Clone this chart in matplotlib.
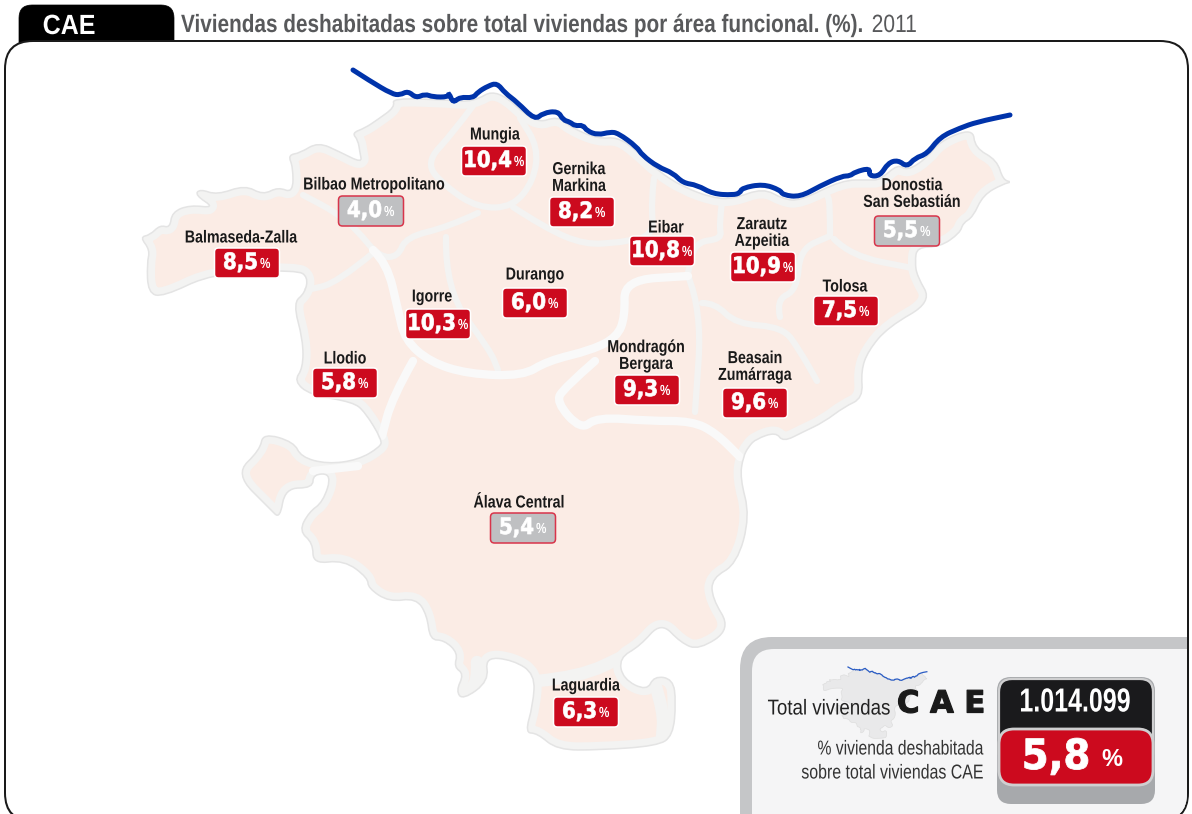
import matplotlib
matplotlib.use("Agg")
import matplotlib.pyplot as plt
from matplotlib.patches import FancyBboxPatch, PathPatch
from matplotlib.path import Path
from matplotlib.patheffects import AbstractPathEffect
from matplotlib.transforms import Affine2D

W, H = 1192, 814

# areas funcionales
areas = ["Mungia", "Bilbao Metropolitano", "Balmaseda-Zalla", "Gernika\nMarkina", "Eibar",
         "Zarautz\nAzpeitia", "Donostia\nSan Sebastián", "Tolosa", "Durango", "Igorre",
         "Llodio", "Mondragón\nBergara", "Beasain\nZumárraga", "Álava Central", "Laguardia"]
values = [10.4, 4.0, 8.5, 8.2, 10.8, 10.9, 5.5, 7.5, 6.0, 10.3, 5.8, 9.3, 9.6, 5.4, 6.3]
box_x = [494, 371, 247, 582, 662, 763, 907, 846, 535, 438, 345, 647, 755, 523, 586]
box_y = [161, 211, 263, 212, 251, 267, 231, 311, 303, 324, 383, 390, 403, 528, 712]
label_x = [495, 374, 241, 579, 666, 762, 912, 845, 535, 432, 345, 646, 755, 519, 586]
label_y = [135, 185, 238, 178, 228, 233, 194, 287, 275, 297, 359, 356, 367, 503, 686]

cae_value = 5.8
cae_total = "1.014.099"

# contorno exterior del mapa
land = [(392, 98), (448, 100), (473, 102), (497, 88), (535, 124), (558, 116), (570, 127), (598, 139),
        (618, 137), (637, 151), (658, 171), (683, 187), (713, 198), (733, 199), (763, 188), (783, 199),
        (800, 201), (842, 180), (869, 180), (880, 180), (898, 164), (907, 171), (927, 158), (940, 141),
        (973, 128), (975, 148), (997, 160), (1003, 180), (1012, 182), (1003, 184), (983, 195), (973, 217),
        (963, 223), (960, 233), (940, 247), (917, 247), (915, 262), (917, 276), (932, 302), (888, 327),
        (868, 351), (861, 371), (863, 398), (844, 407), (824, 422), (803, 432), (783, 442), (776, 432),
        (756, 439), (749, 446), (743, 457), (740, 478), (750, 516), (737, 564), (712, 578), (712, 598),
        (731, 629), (699, 650), (681, 643), (661, 622), (640, 646), (619, 658), (623, 679), (647, 691),
        (654, 676), (673, 679), (676, 702), (673, 736), (657, 746), (599, 750), (557, 750), (537, 733),
        (525, 733), (533, 705), (535, 674), (513, 660), (485, 657), (489, 681), (463, 700), (456, 691),
        (464, 674), (454, 667), (458, 653), (444, 640), (430, 640), (427, 615), (416, 598), (389, 602),
        (368, 588), (368, 578), (344, 560), (313, 564), (313, 543), (299, 531), (309, 512), (323, 502),
        (332, 474), (313, 474), (313, 488), (285, 488), (280, 519), (270, 509), (235, 474), (260, 450),
        (263, 433), (294, 442), (301, 457), (327, 464), (358, 460), (380, 447), (382, 440), (365, 412),
        (353, 402), (310, 395), (294, 381), (303, 368), (303, 340), (293, 303), (305, 293), (308, 277),
        (297, 270), (213, 273), (163, 297), (148, 293), (147, 263), (150, 250), (140, 237), (150, 235),
        (160, 225), (170, 228), (172, 212), (190, 205), (215, 208), (195, 195), (200, 189), (217, 195),
        (245, 185), (263, 195), (278, 187), (293, 193), (293, 167), (288, 155), (300, 153), (318, 142),
        (340, 152), (362, 163), (360, 153), (358, 140), (352, 133), (365, 128), (377, 120), (395, 107)]

# fronteras entre areas (gris claro)
borders_gray = [
    [(475, 103), (453, 133), (425, 163), (446, 187), (478, 208), (513, 207), (534, 180), (538, 147), (520, 118)],
    [(478, 213), (448, 227), (406, 237), (398, 257), (379, 257), (357, 230), (337, 213), (303, 195)],
    [(373, 253), (337, 283), (307, 290)],
    [(513, 207), (545, 228), (585, 245), (620, 242)],
    [(654, 178), (651, 202), (654, 236), (620, 242)],
    [(722, 202), (719, 225), (722, 239), (695, 242), (688, 273)],
    [(688, 276), (702, 310), (695, 412)],
    [(702, 303), (715, 303), (736, 324), (783, 327), (800, 351), (817, 381)],
    [(780, 317), (776, 300), (797, 290), (800, 249), (830, 236)],
    [(830, 236), (830, 202), (827, 195)],
    [(834, 239), (851, 256), (912, 268)],
    [(446, 237), (445, 290), (490, 350), (498, 370)],
]
# zonas grises mas anchas en el sur
bands_wide = [
    [(537, 681), (580, 677), (626, 655)],
    [(477, 662), (478, 682), (467, 692)],
    [(655, 684), (664, 712), (662, 738)],
]
# fronteras anchas en blanco
borders_white = [
    [(373, 250), (387, 263), (398, 310), (405, 340), (430, 362), (468, 374), (523, 376), (547, 361), (592, 350),
     (617, 337), (625, 317), (624, 280), (688, 276)],
    [(595, 361), (564, 388), (556, 402), (581, 430), (597, 417), (650, 421), (692, 421), (716, 433), (740, 457)],
    [(413, 361), (392, 398), (382, 436)],
    [(358, 466), (313, 471)],
]

coast_x = [353, 370, 392, 400, 408, 416, 425, 433, 448, 449, 453, 460, 473, 478, 488, 497, 505, 517, 535, 543,
           558, 563, 570, 575, 583, 587, 598, 610, 618, 637, 642, 658, 673, 683, 697, 713, 733, 740, 742, 763,
           780, 783, 800, 820, 842, 850, 855, 870, 869, 880, 888, 898, 907, 915, 927, 940, 960, 977, 1010]
coast_y = [70, 81, 94, 95, 91, 98, 94, 97, 97, 93, 103, 97, 98, 92, 86, 83, 93, 102, 120, 113,
           111, 120, 122, 126, 125, 131, 135, 132, 133, 147, 155, 167, 173, 183, 185, 194, 195, 193, 188, 184,
           190, 195, 197, 186, 176, 176, 172, 168, 176, 176, 163, 160, 167, 158, 154, 137, 128, 122, 115]

PINK = "#fbece5"
BAND = "#f3f3f2"
RED = "#cc0a1e"
GREY = "#bfc0c2"
SANS = "Liberation Sans"


class Squeeze(AbstractPathEffect):
    # no hay fuente narrow instalada, se estrecha el texto en horizontal
    def __init__(self, sx, x0, stroke=0):
        super().__init__()
        self.sx, self.x0, self.stroke = sx, x0, stroke

    def draw_path(self, renderer, gc, tpath, affine, rgbFace=None):
        a = affine + Affine2D().translate(-self.x0, 0).scale(self.sx, 1).translate(self.x0, 0)
        gc0 = renderer.new_gc()
        gc0.copy_properties(gc)
        if self.stroke:
            gc0.set_linewidth(self.stroke)
            gc0.set_foreground(rgbFace)
        renderer.draw_path(gc0, tpath, a, rgbFace)
        gc0.restore()


def smooth(pts, closed=True):
    # esquinas redondeadas con curvas cuadraticas entre puntos medios
    mid = [((a[0] + b[0]) / 2, (a[1] + b[1]) / 2) for a, b in zip(pts, pts[1:] + pts[:1])]
    if closed:
        verts, codes = [mid[-1]], [Path.MOVETO]
        for p, m in zip(pts, mid):
            verts += [p, m]
            codes += [Path.CURVE3, Path.CURVE3]
    else:
        verts, codes = [pts[0]], [Path.MOVETO]
        for p, m in zip(pts[1:-1], mid[1:-1]):
            verts += [p, m]
            codes += [Path.CURVE3, Path.CURVE3]
        verts.append(pts[-1])
        codes.append(Path.LINETO)
    return Path(verts, codes)


def stext(x, y, s, sx, stroke=0, **kw):
    t = ax.text(x, y, s, **kw)
    t.set_path_effects([Squeeze(sx, x, stroke)])
    return t


fig = plt.figure(figsize=(W / 100, H / 100), dpi=100)
ax = fig.add_axes([0, 0, 1, 1])
ax.set_xlim(0, W)
ax.set_ylim(H, 0)
ax.axis("off")
renderer = fig.canvas.get_renderer()

# pestaña y titulo
ax.add_patch(FancyBboxPatch((19, 5), 155, 50, boxstyle="round,pad=0,rounding_size=13", fc="black", ec="black", lw=0.5))
stext(69, 27, "CAE", 0.9, color="white", fontsize=20, fontweight="bold", family=SANS, ha="center", va="center", zorder=3)
title = stext(181, 25, "Viviendas deshabitadas sobre total viviendas por área funcional. (%).", 0.83,
              color="#58595b", fontsize=18, fontweight="bold", family=SANS, va="center")
x_year = 181 + title.get_window_extent(renderer).width * 0.83 + 8
stext(x_year, 25, "2011", 0.84, color="#58595b", fontsize=18, family=SANS, va="center")

# marco: dos cajas rellenas, el borde inferior queda fuera del lienzo
ax.add_patch(FancyBboxPatch((4, 40), 1185, 782, boxstyle="round,pad=0,rounding_size=29", fc="#1a1a1a", ec="none",
                            zorder=1, clip_on=False))
frame = FancyBboxPatch((6, 42), 1181, 778, boxstyle="round,pad=0,rounding_size=27", fc="white", ec="none",
                       zorder=1, clip_on=False)
ax.add_patch(frame)

# mapa
land_path = smooth(land)
land_fill = PathPatch(land_path, fc=PINK, ec="none", zorder=2)
ax.add_patch(land_fill)
rim = PathPatch(land_path, fc="none", ec=BAND, lw=11, joinstyle="round", zorder=3)
ax.add_patch(rim)
rim.set_clip_path(land_fill)
for b in borders_gray:
    ax.add_patch(PathPatch(smooth(b, closed=False), fc="none", ec=BAND, lw=4.5, capstyle="round", zorder=4))
for b in bands_wide:
    band = PathPatch(smooth(b, closed=False), fc="none", ec=BAND, lw=9, capstyle="round", zorder=4)
    ax.add_patch(band)
    band.set_clip_path(land_fill)
for b in borders_white:
    ax.add_patch(PathPatch(smooth(b, closed=False), fc="none", ec="#f9f9f9", lw=6, capstyle="round", zorder=4))
ax.add_patch(PathPatch(land_path, fc="none", ec="#e4e4e4", lw=1.1, zorder=5))
ax.add_patch(PathPatch(smooth(list(zip(coast_x, coast_y)), closed=False), fc="none", ec="#0033aa", lw=3.6,
                       capstyle="round", zorder=6))

# etiquetas y valores
for name, v, bx, by, lx, ly in zip(areas, values, box_x, box_y, label_x, label_y):
    stext(lx, ly, name, 0.82, ha="center", va="center", fontsize=12.5, fontweight="bold", family=SANS,
          color="#1a1a1a", linespacing=1.15, zorder=8)
    low = v < cae_value
    ax.add_patch(FancyBboxPatch((bx - 32.5, by - 15), 65, 30, boxstyle="round,pad=0,rounding_size=4",
                                fc=GREY if low else RED, ec="#d8344a" if low else "white", lw=1.1, zorder=7))
    t = ax.text(bx, by, f"{v:.1f}".replace(".", ","), color="white", fontsize=16.2, fontweight="bold",
                ha="left", va="center", zorder=8)
    w_val = t.get_window_extent(renderer).width * 0.88
    x_val = bx - (w_val + 13) / 2
    t.set_x(x_val)
    t.set_path_effects([Squeeze(0.88, x_val, 0.5)])
    stext(x_val + w_val + 2, by + 1, "%", 0.8, color="white", fontsize=10.5, fontweight="bold", family=SANS,
          va="center", zorder=8)

# recuadro CAE
panel = FancyBboxPatch((740, 637), 500, 250, boxstyle="round,pad=0,rounding_size=32", fc="#c5c6c8", ec="none", zorder=9)
ax.add_patch(panel)
panel.set_clip_path(frame)
inner = FancyBboxPatch((752, 649), 500, 250, boxstyle="round,pad=0,rounding_size=22", fc="#f5f5f6", ec="none", zorder=9)
ax.add_patch(inner)
inner.set_clip_path(frame)

mini = Affine2D().translate(-353, -70).scale(0.12, 0.105).translate(848, 667) + ax.transData
ax.add_patch(PathPatch(land_path, fc="#e9e9ea", ec="#dedede", lw=0.5, transform=mini, zorder=10))
ax.plot(coast_x, coast_y, color="#2a5cc4", lw=0.9, transform=mini, zorder=10)

stext(890, 709, "Total viviendas", 0.87, ha="right", va="center", fontsize=15.5, family=SANS, color="#222222", zorder=11)
stext(941, 704, "C A E", 1.0, stroke=0.9, ha="center", va="center", fontsize=22, fontweight="bold", family="DejaVu Sans",
      color="#1a1a1a", zorder=11)
stext(984, 749, "% vivienda deshabitada", 0.78, ha="right", va="center", fontsize=14.5, family=SANS, color="#333333", zorder=11)
stext(984, 773, "sobre total viviendas CAE", 0.79, ha="right", va="center", fontsize=14.5, family=SANS, color="#333333", zorder=11)

ax.add_patch(FancyBboxPatch((997, 677), 158, 127, boxstyle="round,pad=0,rounding_size=14", fc="#a7a9ac", ec="none", zorder=10))
ax.add_patch(FancyBboxPatch((999, 679), 154, 88, boxstyle="round,pad=0,rounding_size=13", fc="#1a1a1c", ec="#cfcfd0", lw=1.6, zorder=11))
ax.add_patch(FancyBboxPatch((999, 729), 154, 56, boxstyle="round,pad=0,rounding_size=15", fc=RED, ec="#cfcfd0", lw=2, zorder=12))
stext(1075, 703, cae_total, 0.75, color="white", ha="center", va="center", fontsize=24, family=SANS, fontweight="bold", zorder=13)
stext(1056, 757, f"{cae_value:.1f}".replace(".", ","), 0.93, stroke=0.6, color="white", ha="center", va="center",
      fontsize=30, fontweight="bold", zorder=13)
ax.text(1112, 759, "%", color="white", ha="center", va="center", fontsize=17, fontweight="bold", family=SANS, zorder=13)

fig.savefig("out.png", dpi=100)
